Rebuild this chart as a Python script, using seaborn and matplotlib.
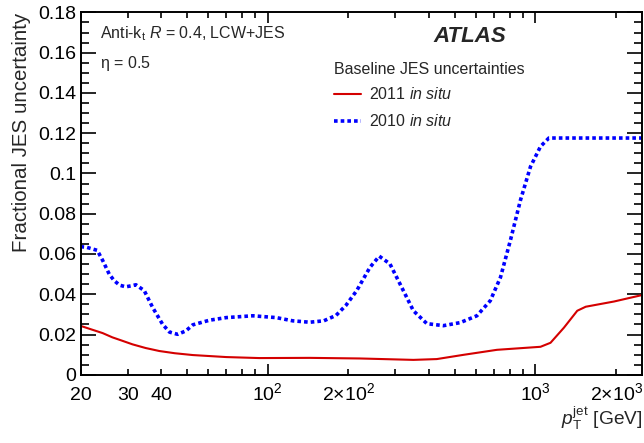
import numpy as np
import pandas as pd
import matplotlib
matplotlib.use("Agg")
import matplotlib.pyplot as plt
import matplotlib.ticker as mticker
import seaborn as sns

# --- dados ---
pt_2011 = [20, 22, 24.2, 26.3, 28.5, 31.3, 35, 39.4, 45, 52.5, 70, 93, 143.5, 221, 350,
           428, 538, 718, 1044, 1138, 1277, 1432, 1540, 1965, 2500]
unc_2011 = [0.0243, 0.0225, 0.0207, 0.0186, 0.0170, 0.0151, 0.0133, 0.0118, 0.0107, 0.0098,
            0.0088, 0.0083, 0.0084, 0.0081, 0.0074, 0.0078, 0.0099, 0.0124, 0.0139, 0.0159,
            0.0234, 0.0318, 0.0338, 0.0364, 0.0396]

pt_2010 = [20, 21, 23.1, 24.2, 25.6, 26.7, 28, 29.5, 31, 32.2, 34.6, 37.2, 40.5, 43, 46.1,
           49.5, 52.5, 60.6, 70, 88, 107.6, 124, 143.5, 162, 180, 196, 215, 241, 261, 286,
           312, 350, 393, 453, 523, 604, 678, 740, 806, 879, 958, 1044, 1122, 2500]
unc_2010 = [0.0636, 0.0634, 0.0618, 0.0568, 0.0500, 0.0468, 0.0445, 0.0437, 0.0442, 0.0447,
            0.0418, 0.0334, 0.0251, 0.0212, 0.0201, 0.0218, 0.0248, 0.0271, 0.0284, 0.0293,
            0.0284, 0.0268, 0.0261, 0.0268, 0.0295, 0.0345, 0.0418, 0.0534, 0.0589, 0.0551,
            0.0451, 0.0318, 0.0254, 0.0244, 0.0259, 0.0293, 0.0368, 0.0484, 0.0668, 0.0868,
            0.1034, 0.1134, 0.1176, 0.1176]

labels_serie = ['2011 $\\it{in\\ situ}$', '2010 $\\it{in\\ situ}$']

df_2011 = pd.DataFrame({'pt': pt_2011, 'unc': unc_2011})
df_2010 = pd.DataFrame({'pt': pt_2010, 'unc': unc_2010})

# --- Configurações Visuais ---
sns.set_theme(style="ticks")
plt.rcParams['font.family'] = ['Liberation Sans', 'DejaVu Sans']
plt.rcParams['mathtext.fontset'] = 'custom'
plt.rcParams['mathtext.rm'] = 'Liberation Sans'
plt.rcParams['mathtext.it'] = 'Liberation Sans:italic'
plt.rcParams['mathtext.bf'] = 'Liberation Sans:bold'

fig = plt.figure(figsize=(6.44, 4.43), dpi=100)
ax = fig.add_axes([0.125, 0.154, 0.872, 0.818])

sns.lineplot(data=df_2011, x='pt', y='unc', ax=ax, color='#d40000', lw=1.5,
             label=labels_serie[0])
sns.lineplot(data=df_2010, x='pt', y='unc', ax=ax, color='#0000ff', lw=2.6,
             linestyle=(0, (1, 0.85)), label=labels_serie[1])

ax.set_xscale('log')
ax.set_xlim(20, 2500)
ax.set_ylim(0, 0.18)

# eixos no estilo ROOT
ax.xaxis.set_major_locator(mticker.FixedLocator([100, 1000]))
ax.xaxis.set_major_formatter(mticker.FixedFormatter(['$10^{2}$', '$10^{3}$']))
minor_x = [20, 30, 40, 50, 60, 70, 80, 90, 200, 300, 400, 500, 600, 700, 800, 900, 2000]
minor_lbl = {20: '20', 30: '30', 40: '40', 200: '$2{\\times}10^{2}$', 2000: '$2{\\times}10^{3}$'}
ax.xaxis.set_minor_locator(mticker.FixedLocator(minor_x))
ax.xaxis.set_minor_formatter(mticker.FuncFormatter(lambda v, p: minor_lbl.get(int(round(v)), '')))
ax.yaxis.set_major_locator(mticker.MultipleLocator(0.02))
ax.yaxis.set_minor_locator(mticker.MultipleLocator(0.005))
ax.yaxis.set_major_formatter(mticker.FuncFormatter(lambda v, p: '%g' % round(v, 3)))

ax.tick_params(axis='both', which='both', direction='in', top=True, right=True,
               labelsize=14, width=1.2, colors='black')
ax.tick_params(axis='y', which='major', length=11, pad=3)
ax.tick_params(axis='y', which='minor', length=5.5)
ax.tick_params(axis='x', which='major', length=8, pad=18.5)
ax.tick_params(axis='x', which='minor', length=4.5, pad=18.5)
for t in ax.xaxis.get_major_ticks() + ax.xaxis.get_minor_ticks():
    t.label1.set_verticalalignment('baseline')
for s in ax.spines.values():
    s.set_linewidth(1.4)
    s.set_color('black')

ax.set_ylabel('Fractional JES uncertainty', fontsize=14.8, loc='top', labelpad=5)
ax.set_xlabel('$p_{\\mathrm{T}}^{\\mathrm{jet}}$ [GeV]', fontsize=13.8, loc='right')
ax.xaxis.set_label_coords(1.0, -0.082)

# textos
ax.text(0.034, 0.942, 'Anti-k$_{\\mathrm{t}}$ $R$ = 0.4, LCW+JES', transform=ax.transAxes,
        fontsize=11.5, va='center')
ax.text(0.034, 0.86, '$\\mathrm{\\eta}$ = 0.5', transform=ax.transAxes, fontsize=11.5, va='center')
ax.text(0.693, 0.934, 'ATLAS', transform=ax.transAxes, fontsize=16, fontweight='bold',
        fontstyle='italic', ha='center', va='center')

leg = ax.legend(title='Baseline JES uncertainties', loc='upper left',
                bbox_to_anchor=(0.452, 0.864), frameon=False, fontsize=11.5,
                title_fontsize=11.5, handlelength=1.7, handletextpad=0.5,
                labelspacing=0.68, alignment='left', borderaxespad=0, borderpad=0)
leg._legend_box.sep = 7

plt.savefig('out.png', dpi=100)
